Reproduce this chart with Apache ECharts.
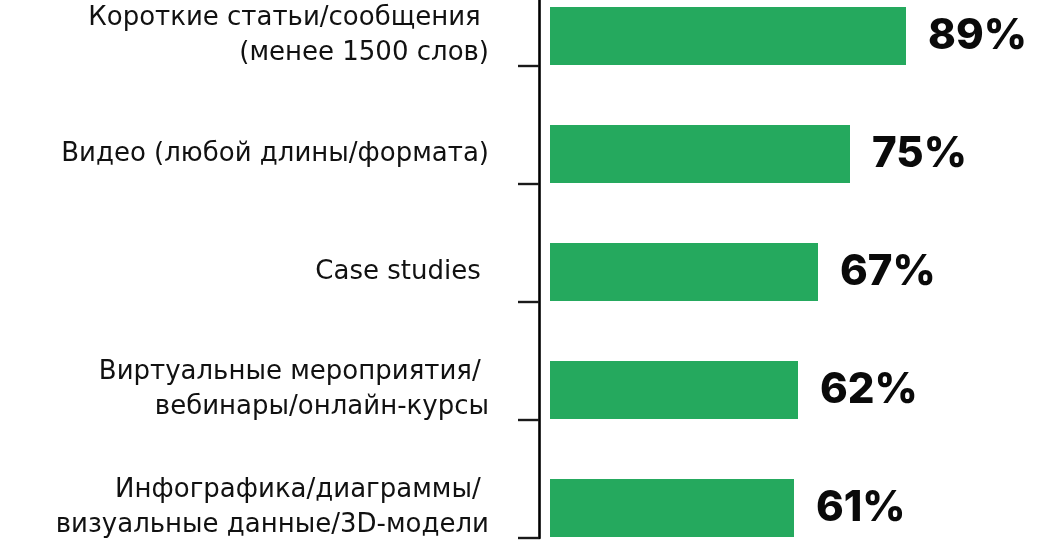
<!DOCTYPE html>
<html>
<head>
<meta charset="utf-8">
<script src="https://cdn.jsdelivr.net/npm/echarts@6/dist/echarts.min.js"></script>
<style>
html,body{margin:0;padding:0;background:#fff;}
#chart{width:1062px;height:542px;}
</style>
</head>
<body>
<div id="chart"></div>
<script>
const categories = [
  'Короткие статьи/сообщения \n(менее 1500 слов)',
  'Видео (любой длины/формата)',
  'Case studies ',
  'Виртуальные мероприятия/ \nвебинары/онлайн-курсы',
  'Инфографика/диаграммы/ \nвизуальные данные/3D-модели'
];
const values = [89, 75, 67, 62, 61];

const chart = echarts.init(document.getElementById('chart'), null, {renderer: 'canvas'});
chart.setOption({
  animation: false,
  grid: {left: 550, right: 112, top: -52, bottom: 4, outerBoundsMode: 'none', containLabel: false},
  xAxis: {type: 'value', min: 0, max: 100, show: false},
  yAxis: {
    type: 'category',
    data: categories,
    inverse: true,
    offset: 11,
    axisLine: {show: true, onZero: false, lineStyle: {color: '#000', width: 2.6}},
    axisTick: {show: true, inside: false, length: 21, lineStyle: {color: '#1a1a1a', width: 2.4}},
    axisLabel: {
      interval: 0,
      hideOverlap: false,
      margin: 50,
      align: 'right',
      formatter: function (v) {
        return '{p| }\n' + v.split('\n').map(function (l) { return '{t|' + l + '}'; }).join('\n');
      },
      rich: {
        p: {fontSize: 1, lineHeight: 58},
        t: {color: '#111', fontFamily: 'DejaVu Sans', fontSize: 26, lineHeight: 35, align: 'right'}
      }
    },
    splitLine: {show: false}
  },
  series: [
    {
      type: 'bar',
      data: values,
      barWidth: 58,
      barGap: '0%',
      silent: true,
      itemStyle: {color: 'rgba(0,0,0,0)'}
    },
    {
      type: 'bar',
      data: values,
      barWidth: 58,
      barGap: '0%',
      itemStyle: {color: '#25a95e'},
      label: {
        show: true,
        position: 'right',
        distance: 22,
        formatter: '{c}%',
        color: '#0a0a0a',
        fontFamily: 'Inter',
        fontWeight: 800,
        fontSize: 42
      }
    }
  ]
});
</script>
</body>
</html>
